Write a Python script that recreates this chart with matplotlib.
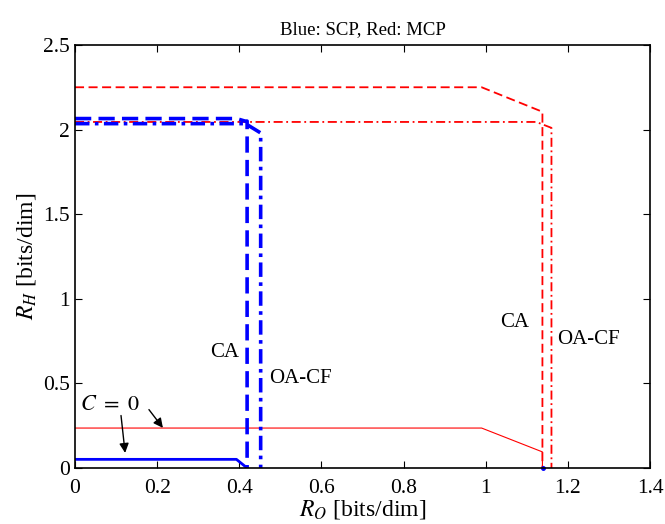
import matplotlib
matplotlib.use("Agg")
import matplotlib.pyplot as plt

plt.rcParams['font.family'] = ['Liberation Serif', 'DejaVu Serif']
plt.rcParams['mathtext.fontset'] = 'stix'

# SCP (blue) boundaries
scp_ca_x = [0, 0.393, 0.414, 0.419, 0.419]
scp_ca_y = [2.065, 2.065, 2.05, 2.05, 0]
scp_oa_x = [0, 0.415, 0.452, 0.452]
scp_oa_y = [2.035, 2.035, 1.98, 0]
scp_c0_x = [0, 0.393, 0.419]
scp_c0_y = [0.051, 0.051, 0.0]

# MCP (red) boundaries
mcp_ca_x = [0, 0.99, 1.138, 1.138]
mcp_ca_y = [2.25, 2.25, 2.105, 0]
mcp_oa_x = [0, 1.123, 1.16, 1.16]
mcp_oa_y = [2.045, 2.045, 2.01, 0]
mcp_c0_x = [0, 0.99, 1.138, 1.138]
mcp_c0_y = [0.236, 0.236, 0.095, 0]

fig = plt.figure(figsize=(6.65, 5.24), dpi=100)
ax = fig.add_axes([0.1128, 0.1069, 0.8647, 0.8073])

ax.plot(mcp_ca_x, mcp_ca_y, 'r--', lw=1.3, dashes=(5, 2.5))
ax.plot(mcp_oa_x, mcp_oa_y, 'r-.', lw=1.3, dashes=(5, 2, 1, 2))
ax.plot(mcp_c0_x, mcp_c0_y, 'r-', lw=0.8)
ax.plot(scp_ca_x, scp_ca_y, 'b--', lw=2.6, dashes=(4.5, 2))
ax.plot(scp_oa_x, scp_oa_y, 'b-.', lw=2.6, dashes=(4, 1.5, 1, 1.5))
ax.plot(scp_c0_x, scp_c0_y, 'b-', lw=2.0)
ax.plot([1.14], [0], 'b.', ms=5, clip_on=False)

ax.text(0.365, 0.68, 'CA', fontsize=15, ha='center', va='center')
ax.text(0.55, 0.53, 'OA-CF', fontsize=15, ha='center', va='center')
ax.text(1.07, 0.86, 'CA', fontsize=15, ha='center', va='center')
ax.text(1.25, 0.76, 'OA-CF', fontsize=15, ha='center', va='center')
ax.text(0.085, 0.37, r'$C\ =\ 0$', fontsize=16, ha='center', va='center')
ax.annotate('', xy=(0.214, 0.237), xytext=(0.18, 0.345),
            arrowprops=dict(arrowstyle='-|>', color='k', lw=1, mutation_scale=14,
                            shrinkA=0, shrinkB=0))
ax.annotate('', xy=(0.122, 0.089), xytext=(0.112, 0.31),
            arrowprops=dict(arrowstyle='-|>', color='k', lw=1, mutation_scale=14,
                            shrinkA=0, shrinkB=0))

ax.set_xlim(0, 1.4)
ax.set_ylim(0, 2.5)
ax.set_xticks([0, 0.2, 0.4, 0.6, 0.8, 1, 1.2, 1.4])
ax.set_xticklabels(['0', '0.2', '0.4', '0.6', '0.8', '1', '1.2', '1.4'])
ax.set_yticks([0, 0.5, 1, 1.5, 2, 2.5])
ax.set_yticklabels(['0', '0.5', '1', '1.5', '2', '2.5'])
ax.tick_params(direction='in', top=True, right=True, labelsize=15.5, length=5, width=0.8)
ax.tick_params(axis='x', pad=8)
for s in ax.spines.values():
    s.set_linewidth(1.2)

ax.set_xlabel('$R_O$ [bits/dim]', fontsize=17, labelpad=0)
ax.set_ylabel('$R_H$ [bits/dim]', fontsize=17, labelpad=4)
ax.set_title('Blue: SCP, Red: MCP', fontsize=13.5, pad=8)

fig.savefig('out.png', dpi=100)
